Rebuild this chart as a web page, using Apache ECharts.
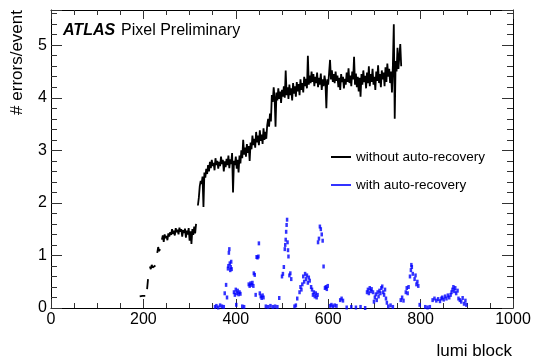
<!DOCTYPE html>
<html><head><meta charset="utf-8">
<script src="https://cdn.jsdelivr.net/npm/echarts@6/dist/echarts.min.js"></script>
<style>html,body{margin:0;padding:0;background:#fff}#c{width:540px;height:360px}</style>
</head><body><div id="c"></div>
<script>
const seriesNames = ['without auto-recovery', 'with auto-recovery'];
const xTickLabels = [0, 200, 400, 600, 800, 1000];
const yTickLabels = [0, 1, 2, 3, 4, 5];
const blackStart = 192, blackStep = 2;
const blackVals = [
0.22,0.24,0.21,0.23,0.22,0.20,0.23,null,0.36,0.55,null,0.79,0.74,0.82,0.77,0.80,0.76,0.81,null,1.05,
1.16,1.08,1.12,null,1.30,1.38,1.26,1.40,1.33,1.37,1.29,1.42,1.36,1.44,1.39,1.50,1.41,1.47,1.38,1.52,
1.44,1.49,1.40,1.53,1.45,1.50,1.36,1.48,1.43,1.51,1.34,1.47,1.40,1.52,1.28,1.46,1.22,1.50,1.39,1.55,
1.42,1.60,null,1.95,2.10,2.32,2.42,2.36,2.50,1.92,2.58,2.48,2.65,2.55,2.72,2.60,2.78,2.66,2.82,2.70,
2.76,2.62,2.85,2.72,2.80,2.65,2.78,2.70,2.88,2.74,2.82,2.60,2.79,2.68,2.84,2.72,2.90,2.66,2.83,2.74,
2.95,2.20,2.80,2.72,2.88,2.65,2.82,2.58,2.90,2.75,3.00,2.85,3.20,2.92,3.05,2.88,3.12,2.95,3.08,2.80,
3.15,3.02,3.28,3.10,3.22,3.05,3.35,3.15,3.28,3.10,3.38,3.18,3.30,3.12,3.42,3.20,3.35,3.22,3.48,3.60,
3.45,3.70,3.55,4.05,3.92,4.20,4.00,3.45,4.10,3.95,4.18,3.98,4.12,3.90,4.15,4.02,4.22,4.00,4.52,4.05,
4.20,3.98,4.25,4.05,4.18,3.95,4.28,4.08,4.22,4.02,4.30,4.12,4.26,4.05,4.35,4.15,4.28,4.10,4.40,4.22,
4.36,4.18,4.80,4.25,4.42,4.28,4.50,4.30,4.45,4.22,4.40,4.28,4.48,4.20,4.38,4.25,4.46,4.15,4.35,4.22,
4.42,4.30,3.80,4.35,4.25,4.48,4.72,4.35,4.52,4.30,4.45,4.28,4.50,4.32,4.42,4.20,4.38,4.15,4.45,4.30,
4.40,4.18,4.36,4.25,4.48,4.30,4.56,4.28,4.42,4.22,4.50,4.35,4.78,4.25,4.46,4.20,4.40,4.12,4.38,4.02,
4.45,4.25,4.52,4.30,4.42,4.18,4.48,4.28,4.60,4.22,4.45,4.30,4.55,4.25,4.40,4.15,4.50,4.32,4.62,4.28,
4.45,4.20,4.52,4.35,4.48,4.22,4.58,4.30,4.65,4.40,4.55,4.28,4.50,4.10,4.62,5.40,3.60,4.70,4.50,4.95,
4.55,4.78,5.02,4.60
];
const blueLumi = [
355,358,362,366,370,374,376,379,381,383,384,385,386,387,388,389,390,391,
396,398,400,401,402,404,406,408,410,414,418,428,430,432,434,436,438,439,441,
443,445,447,449,450,452,454,456,458,460,465,470,475,480,485,490,494,
500,502,504,506,507,508,509,510,511,512,513,514,516,518,520,527,530,533,
538,540,542,544,546,548,550,552,554,556,558,560,563,565,567,569,571,573,575,577,
578,580,582,584,586,588,590,593,595,597,599,604,607,610,614,618,626,629,632,
640,650,660,670,680,684,686,688,690,692,694,697,699,701,703,705,707,709,711,713,
715,717,719,721,723,725,727,730,735,740,757,760,763,768,770,772,774,777,779,780,
781,783,787,789,791,793,795,798,810,815,820,826,830,834,838,842,845,847,850,853,
856,859,862,865,867,869,871,873,875,877,880,882,885,888,891,894,897,899
];
const blueVals = [
0.02,0.04,0.01,0.05,0.03,0.02,0.28,0.44,0.20,0.75,0.80,1.05,1.12,0.85,0.72,0.78,0.88,0.74,
0.30,0.25,0.35,0.06,0.28,0.33,0.26,0.30,0.27,0.03,0.02,0.45,0.42,0.47,0.44,0.48,0.42,0.66,0.63,
0.25,0.97,0.96,0.98,1.23,0.28,0.22,0.19,0.24,0.20,0.03,0.02,0.04,0.02,0.03,0.02,0.19,
0.60,0.65,0.78,1.12,1.20,1.30,1.45,1.58,1.68,1.25,1.10,0.98,0.62,0.66,0.55,0.03,0.05,0.18,
0.30,0.40,0.35,0.45,0.60,0.50,0.65,0.55,0.62,0.48,0.58,0.52,0.40,0.35,0.25,0.30,0.22,0.28,0.20,0.25,
1.25,1.32,1.55,1.50,1.40,1.28,0.79,0.38,0.40,0.36,0.42,0.04,0.06,0.03,0.05,0.04,0.15,0.18,0.14,
0.01,0.02,0.01,0.02,0.00,0.30,0.35,0.28,0.38,0.32,0.36,0.30,0.12,0.20,0.26,0.15,0.30,0.22,0.33,0.28,
0.38,0.41,0.30,0.25,0.35,0.18,0.10,0.03,0.05,0.02,0.15,0.20,0.14,0.30,0.38,0.28,0.40,0.60,0.72,0.82,
0.78,0.65,0.55,0.62,0.45,0.50,0.42,0.06,0.02,0.01,0.02,0.15,0.18,0.14,0.17,0.13,0.18,0.20,0.16,0.22,
0.18,0.24,0.20,0.25,0.30,0.35,0.40,0.32,0.38,0.28,0.33,0.18,0.15,0.12,0.19,0.08,0.14,0.06
];

const blackData = blackVals.map((v, i) => [blackStart + i * blackStep, v]);
const blueData = blueLumi.map((x, i) => [x, blueVals[i]]);

const FONT = 'Liberation Sans, Arial, Helvetica, sans-serif';
const chart = echarts.init(document.getElementById('c'), null, {renderer: 'canvas'});

function xAx(pos, labels) {
  return {
    type: 'value', position: pos, min: 0, max: 1000, interval: 200,
    axisLine: {show: true, onZero: false, lineStyle: {color: '#000', width: 1}},
    axisTick: {show: true, inside: true, length: 9, lineStyle: {color: '#333'}},
    minorTick: {show: true, splitNumber: 4, length: 5, lineStyle: {color: '#333'}},
    splitLine: {show: false},
    axisLabel: {show: labels, color: '#000', fontSize: 16, fontFamily: FONT, margin: 4,
      formatter: v => (xTickLabels.indexOf(v) >= 0 ? String(v) : '')}
  };
}
function yAx(pos, labels) {
  return {
    type: 'value', position: pos, min: 0, max: 5.67, interval: 1,
    axisLine: {show: true, onZero: false, lineStyle: {color: '#000', width: 1}},
    axisTick: {show: true, inside: true, length: 11, lineStyle: {color: '#333'}},
    minorTick: {show: true, splitNumber: 5, length: 6, lineStyle: {color: '#333'}},
    splitLine: {show: false},
    axisLabel: {show: labels, color: '#000', fontSize: 16, fontFamily: FONT, margin: 4, showMaxLabel: false,
      formatter: v => (yTickLabels.indexOf(v) >= 0 ? String(v) : '')}
  };
}

chart.setOption({
  animation: false,
  backgroundColor: '#fff',
  grid: {left: 51, right: 27, top: 10, bottom: 52, containLabel: false},
  xAxis: [xAx('bottom', true), xAx('top', false)],
  yAxis: [yAx('left', true), yAx('right', false)],
  legend: {
    left: 331, top: 150, orient: 'vertical', itemWidth: 20, itemHeight: 2, itemGap: 14, padding: 0,
    textStyle: {color: '#000', fontSize: 13.5, fontFamily: FONT},
    data: [{name: seriesNames[0], icon: 'rect'}, {name: seriesNames[1], icon: 'rect'}]
  },
  series: [
    {
      name: seriesNames[0], type: 'line', data: blackData, showSymbol: false, symbol: 'none',
      connectNulls: false, color: '#000', lineStyle: {color: '#000', width: 1.8}, z: 3
    },
    {
      name: seriesNames[1], type: 'scatter', data: blueData, symbol: 'rect', symbolSize: [2.5, 4],
      color: '#0000ff', itemStyle: {color: '#0000ff'}, z: 2
    }
  ],
  graphic: [
    {type: 'text', x: 63, y: 31, style: {text: 'ATLAS', font: 'italic bold 16px ' + FONT, fill: '#000', textVerticalAlign: 'middle', textAlign: 'left'}},
    {type: 'text', x: 121, y: 31, style: {text: 'Pixel Preliminary', font: '16px ' + FONT, fill: '#000', textVerticalAlign: 'middle', textAlign: 'left'}},
    {type: 'text', x: 17, y: 10, rotation: Math.PI / 2, style: {text: '# errors/event', font: '17px ' + FONT, fill: '#000', textAlign: 'right', textVerticalAlign: 'middle'}},
    {type: 'text', x: 512, y: 351, style: {text: 'lumi block', font: '17px ' + FONT, fill: '#000', textAlign: 'right', textVerticalAlign: 'middle'}}
  ]
});
</script>
</body></html>
